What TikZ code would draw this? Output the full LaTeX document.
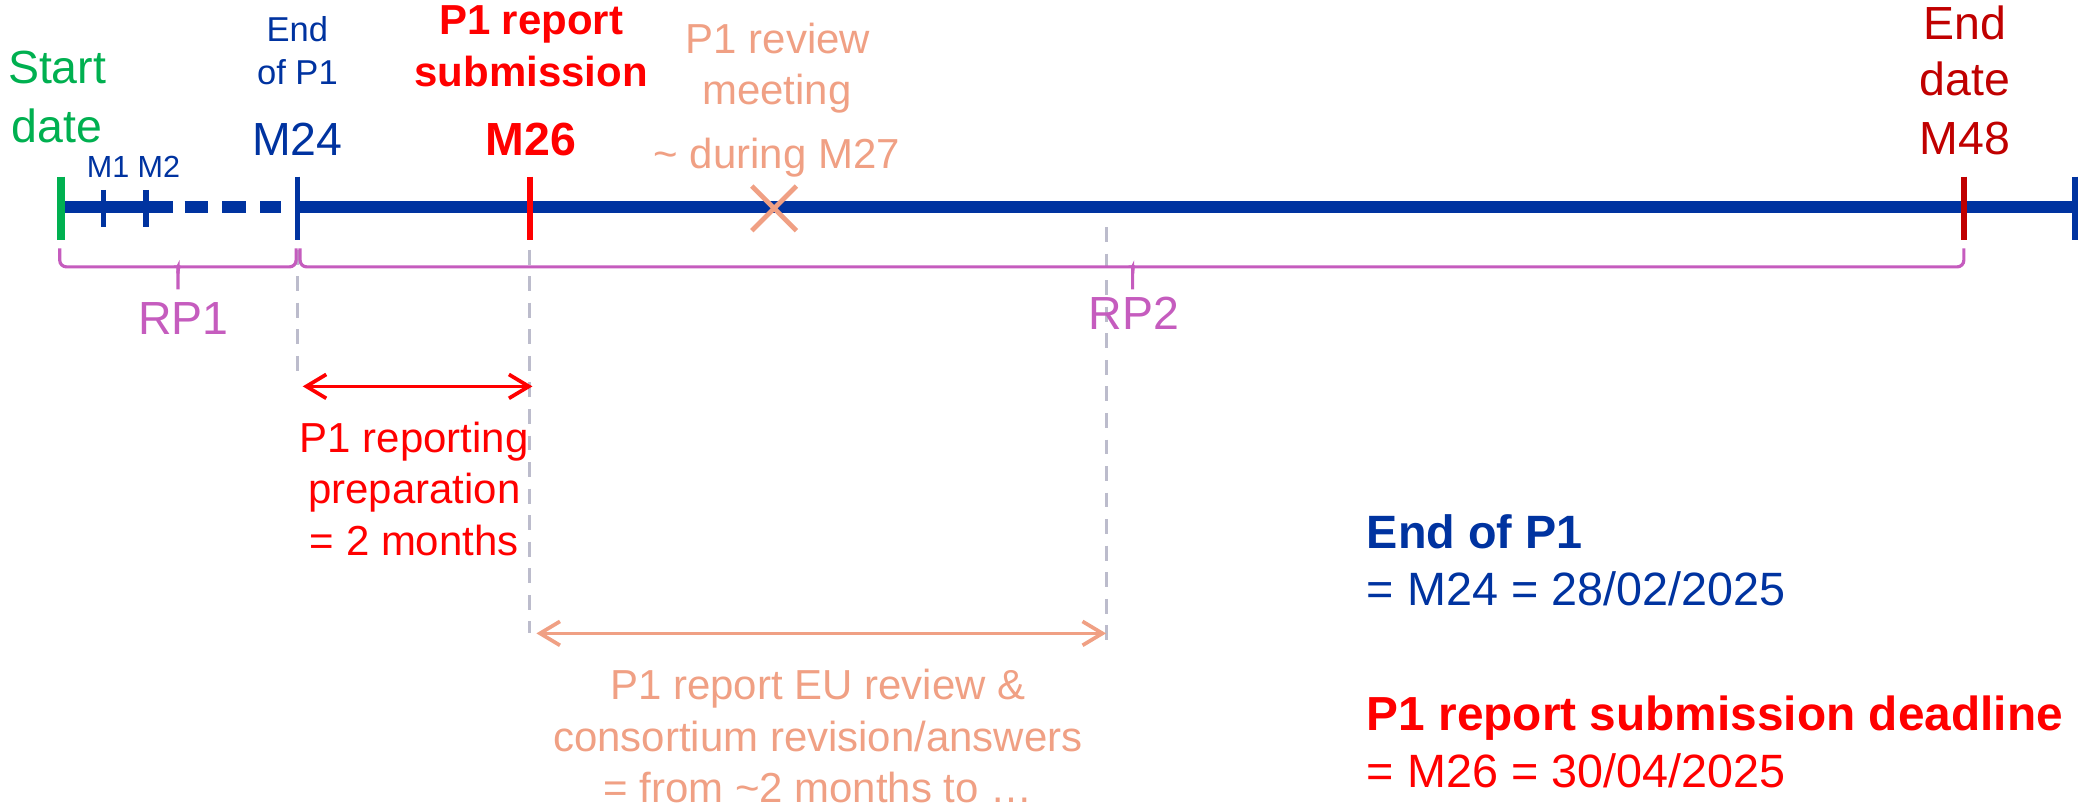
\documentclass[tikz,border=0pt]{standalone}
\usepackage{fontspec}
\setmainfont{Liberation Sans}
\usetikzlibrary{arrows.meta,shapes.misc}
\definecolor{tlblue}{HTML}{0033A0}
\definecolor{tlgreen}{HTML}{00B050}
\definecolor{tlred}{HTML}{FF0000}
\definecolor{tldark}{HTML}{C00000}
\definecolor{tlsalmon}{HTML}{F0A084}
\definecolor{tlpurple}{HTML}{C55CBE}
\definecolor{tlgray}{HTML}{BCBCCC}
\begin{document}
\begin{tikzpicture}[x=0.5pt,y=-0.5pt,
  lbl/.style={inner sep=0pt, anchor=base},
  lblw/.style={inner sep=0pt, anchor=base west},
  fbig/.style={font=\fontsize{17.5}{21}\selectfont},
  fmid/.style={font=\fontsize{15.8}{19}\selectfont},
  fbold/.style={font=\fontsize{15.8}{19}\selectfont\bfseries},
  fsmall/.style={font=\fontsize{13}{16}\selectfont},
  ftiny/.style={font=\fontsize{11.5}{14}\selectfont},
  flegend/.style={font=\fontsize{17.6}{21}\selectfont},
  tline/.style={tlblue, line width=4.4pt},
  tickmark/.style={line width=2.2pt},
  guide/.style={tlgray, line width=1.1pt, dash pattern=on 5.6pt off 4.4pt},
  bracepath/.style={tlpurple, line width=1.2pt, rounded corners=2.5pt},
  span/.style={line width=1.4pt, {Straight Barb[length=7.5pt,width=9pt]}-{Straight Barb[length=7.5pt,width=9pt]}}
]
\useasboundingbox (0,0) rectangle (1568,610);

% timeline
\draw[tline] (46,156) -- (130,156);
\draw[tline, dash pattern=on 8.75pt off 5.5pt] (139,156) -- (212,156);
\draw[tline] (224,156) -- (1563,156);

% ticks
\draw[tickmark, tlgreen, line width=2.8pt] (46,133) -- (46,181);
\draw[tickmark, tlblue] (78,143) -- (78,171);
\draw[tickmark, tlblue] (110,143) -- (110,171);
\draw[tickmark, tlblue] (224,133) -- (224,181);
\draw[tickmark, tlred] (399,133) -- (399,181);
\draw[tickmark, tldark] (1479,133) -- (1479,181);
\draw[tickmark, tlblue] (1563,133) -- (1563,181);

% review meeting mark
\node (x27) [cross out, draw=tlsalmon, line width=1.8pt, minimum size=15pt, inner sep=0pt] at (583,157) {};

% guide lines
\coordinate (g24a) at (224,188);
\coordinate (g24b) at (224,286);
\coordinate (g26a) at (399,188);
\coordinate (g26b) at (399,477);
\coordinate (grva) at (833,171);
\coordinate (grvb) at (833,486);
\draw[guide] (g24a) -- (g24b);
\draw[guide] (g26a) -- (g26b);
\draw[guide] (grva) -- (grvb);

% braces
\draw[bracepath] (45,187) -- (45,201) -- (129,201) .. controls (133,201) and (134,203) .. (134,206) -- (134,218);
\draw[bracepath] (223,187) -- (223,201) -- (139,201) .. controls (135,201) and (134,203) .. (134,206);
\draw[bracepath] (226,187) -- (226,201) -- (848,201) .. controls (852,201) and (853,203) .. (853,206) -- (853,218);
\draw[bracepath] (1479,187) -- (1479,201) -- (858,201) .. controls (854,201) and (853,203) .. (853,206);

% span arrows
\coordinate (prepL) at (228,291);
\coordinate (prepR) at (401,291);
\coordinate (revL) at (404,477);
\coordinate (revR) at (833,477);
\draw[span, tlred] (prepL) -- (prepR);
\draw[span, tlsalmon] (revL) -- (revR);

% top labels
\node[lbl, fbig, text=tlgreen] (start1) at (43,63) {Start};
\node[lbl, fbig, text=tlgreen] (start2) at (43,107) {date};
\node[lblw, ftiny, text=tlblue] (m1m2) at (65,134) {M1 M2};
\node[lbl, fsmall, text=tlblue] (endp1a) at (224,31) {End};
\node[lbl, fsmall, text=tlblue] (endp1b) at (224,64) {of P1};
\node[lbl, fbig, text=tlblue] (m24) at (224,117) {M24};
\node[lbl, fbold, text=tlred] (sub1) at (400,26) {P1 report};
\node[lbl, fbold, text=tlred] (sub2) at (400,65) {submission};
\node[lbl, fbig, text=tlred, font=\fontsize{17.5}{21}\selectfont\bfseries] (m26) at (400,117) {M26};
\node[lbl, fmid, text=tlsalmon] (rev1) at (586,40) {P1 review};
\node[lbl, fmid, text=tlsalmon] (rev2) at (585,79) {meeting};
\node[lbl, fmid, text=tlsalmon] (rev3) at (585,127) {\textasciitilde{} during M27};
\node[lbl, fbig, text=tldark] (end1) at (1480,30) {End};
\node[lbl, fbig, text=tldark] (end2) at (1480,72) {date};
\node[lbl, fbig, text=tldark] (m48) at (1480,116) {M48};

% period labels
\node[lbl, fbig, text=tlpurple] (rp1) at (138,252) {RP1};
\node[lbl, fbig, text=tlpurple] (rp2) at (854,248) {RP2};

% span labels
\node[lbl, fmid, text=tlred] (prep1) at (312,341) {P1 reporting};
\node[lbl, fmid, text=tlred] (prep2) at (312,379) {preparation};
\node[lbl, fmid, text=tlred] (prep3) at (312,418) {= 2 months};
\node[lbl, fmid, text=tlsalmon] (eu1) at (616,527) {P1 report EU review \&};
\node[lbl, fmid, text=tlsalmon] (eu2) at (616,566) {consortium revision/answers};
\node[lbl, fmid, text=tlsalmon] (eu3) at (616,604) {= from \textasciitilde2 months to …};

% legend
\node[lblw, flegend, text=tlblue, font=\fontsize{17.6}{21}\selectfont\bfseries] (leg1) at (1029,413) {End of P1};
\node[lblw, flegend, text=tlblue] (leg2) at (1029,456) {= M24 = 28/02/2025};
\node[lblw, flegend, text=tlred, font=\fontsize{18}{21}\selectfont\bfseries] (leg3) at (1029,550) {P1 report submission deadline};
\node[lblw, flegend, text=tlred] (leg4) at (1029,593) {= M26 = 30/04/2025};
\end{tikzpicture}
\end{document}
